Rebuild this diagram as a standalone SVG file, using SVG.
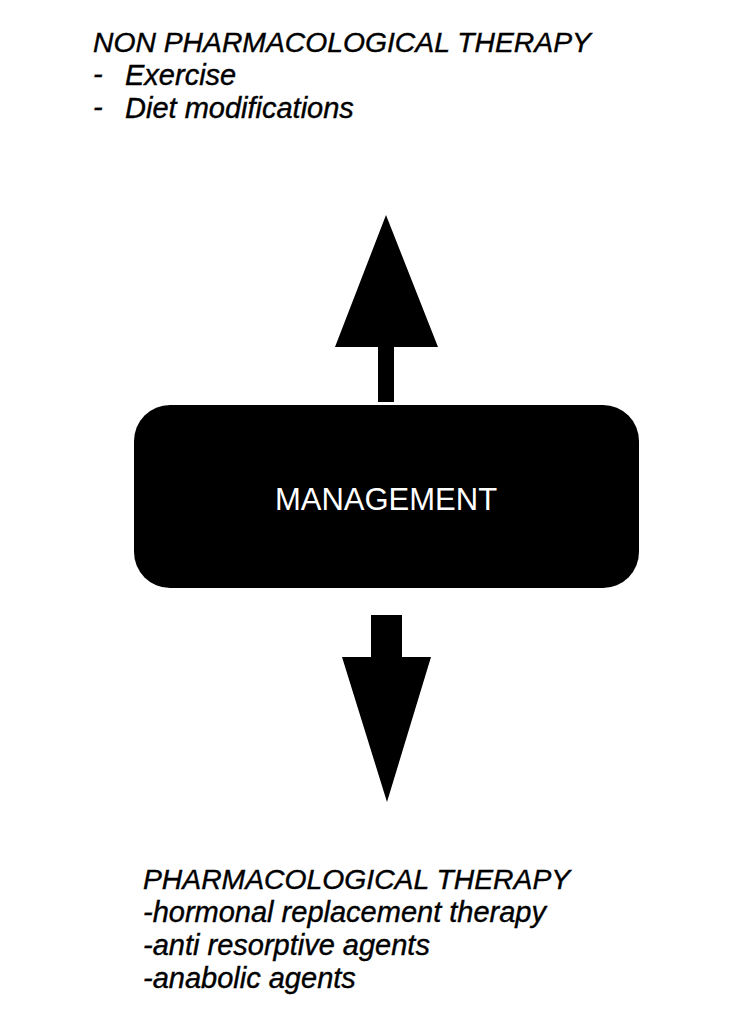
<svg xmlns="http://www.w3.org/2000/svg" width="750" height="1024" viewBox="0 0 750 1024">
<style>
.t{font-family:"Liberation Sans",Arial,sans-serif;font-style:italic;font-size:28.3px;fill:#000;stroke:#000;stroke-width:0.4}
.s{font-size:29px}
.lbl{font-family:"Liberation Sans",Arial,sans-serif;font-size:31px;fill:#fff}
.shape{fill:#000}
</style>
<rect width="750" height="1024" fill="#fff"/>
<g id="non-pharma">
<text class="t" x="93" y="52">NON PHARMACOLOGICAL THERAPY</text>
<text class="t s" x="93" y="84">-</text>
<text class="t s" x="125" y="85">Exercise</text>
<text class="t s" x="93" y="117">-</text>
<text class="t s" x="125" y="118">Diet modifications</text>
</g>
<g id="connectors">
<polygon class="shape" points="386,215 438,347 394,347 394,402 378,402 378,347 335,347"/>
<polygon class="shape" points="371,615 402,615 402,657 431,657 387,802 342,657 371,657"/>
</g>
<g id="management">
<rect class="shape" x="134" y="405" width="505" height="183" rx="36" ry="36"/>
<text class="lbl" x="386" y="510" text-anchor="middle">MANAGEMENT</text>
</g>
<g id="pharma">
<text class="t" x="143" y="889">PHARMACOLOGICAL THERAPY</text>
<text class="t s" x="143" y="922">-hormonal replacement therapy</text>
<text class="t s" x="143" y="955">-anti resorptive agents</text>
<text class="t s" x="143" y="988">-anabolic agents</text>
</g>
</svg>
